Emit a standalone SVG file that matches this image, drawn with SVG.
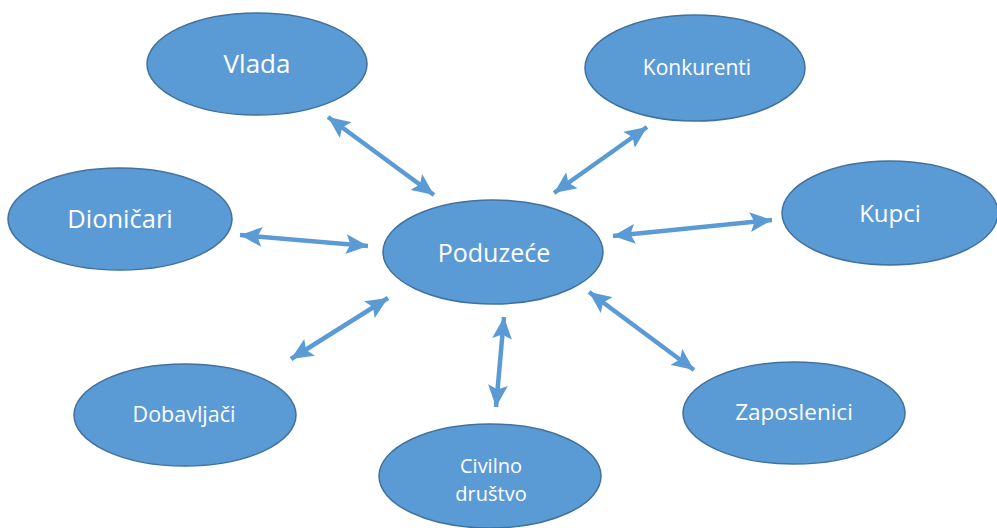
<svg xmlns="http://www.w3.org/2000/svg" width="997" height="528" viewBox="0 0 997 528">
<style>
.n ellipse{fill:#5B9BD5;stroke:#41719C;stroke-width:1.5}
.n text{fill:#fff;font-family:"Open Sans","Liberation Sans",sans-serif;text-anchor:middle}
.c line{stroke:#5B9BD5;stroke-width:4.5;marker-start:url(#ah);marker-end:url(#ah)}
</style>
<defs>
<marker id="ah" markerUnits="userSpaceOnUse" markerWidth="22" markerHeight="20" refX="20" refY="9" orient="auto-start-reverse" viewBox="0 0 20 18">
<path d="M0,0 L20,9 L0,18 L4,9 Z" fill="#5B9BD5"/>
</marker>
</defs>
<rect width="997" height="528" fill="#fff"/>
<g class="c" id="connectors">
<line x1="328" y1="117" x2="434" y2="195"/>
<line x1="647" y1="127" x2="554" y2="193"/>
<line x1="240" y1="235" x2="368" y2="246"/>
<line x1="613" y1="236" x2="772" y2="220"/>
<line x1="291" y1="359" x2="388" y2="298"/>
<line x1="504" y1="317" x2="496" y2="407"/>
<line x1="589" y1="292" x2="694" y2="370"/>
</g>
<g class="n" id="vlada"><ellipse cx="257" cy="64" rx="110" ry="51"/><text x="257" y="73" font-size="26">Vlada</text></g>
<g class="n" id="konkurenti"><ellipse cx="695" cy="68" rx="110" ry="53"/><text x="697" y="75" font-size="21">Konkurenti</text></g>
<g class="n" id="kupci"><ellipse cx="890" cy="213" rx="108" ry="52"/><text x="890" y="222" font-size="24">Kupci</text></g>
<g class="n" id="dionicari"><ellipse cx="120" cy="219" rx="112" ry="51"/><text x="120" y="228" font-size="25.5">Dioničari</text></g>
<g class="n" id="poduzece"><ellipse cx="493" cy="252" rx="110" ry="52"/><text x="494" y="262" font-size="25">Poduzeće</text></g>
<g class="n" id="dobavljaci"><ellipse cx="185" cy="415" rx="111" ry="51"/><text x="184" y="422" font-size="21.5">Dobavljači</text></g>
<g class="n" id="civilno"><ellipse cx="490" cy="476" rx="111" ry="52"/><text x="491" y="473" font-size="20">Civilno</text><text x="491" y="501" font-size="20">društvo</text></g>
<g class="n" id="zaposlenici"><ellipse cx="794" cy="413" rx="111" ry="51"/><text x="794" y="420" font-size="22.5">Zaposlenici</text></g>
</svg>
